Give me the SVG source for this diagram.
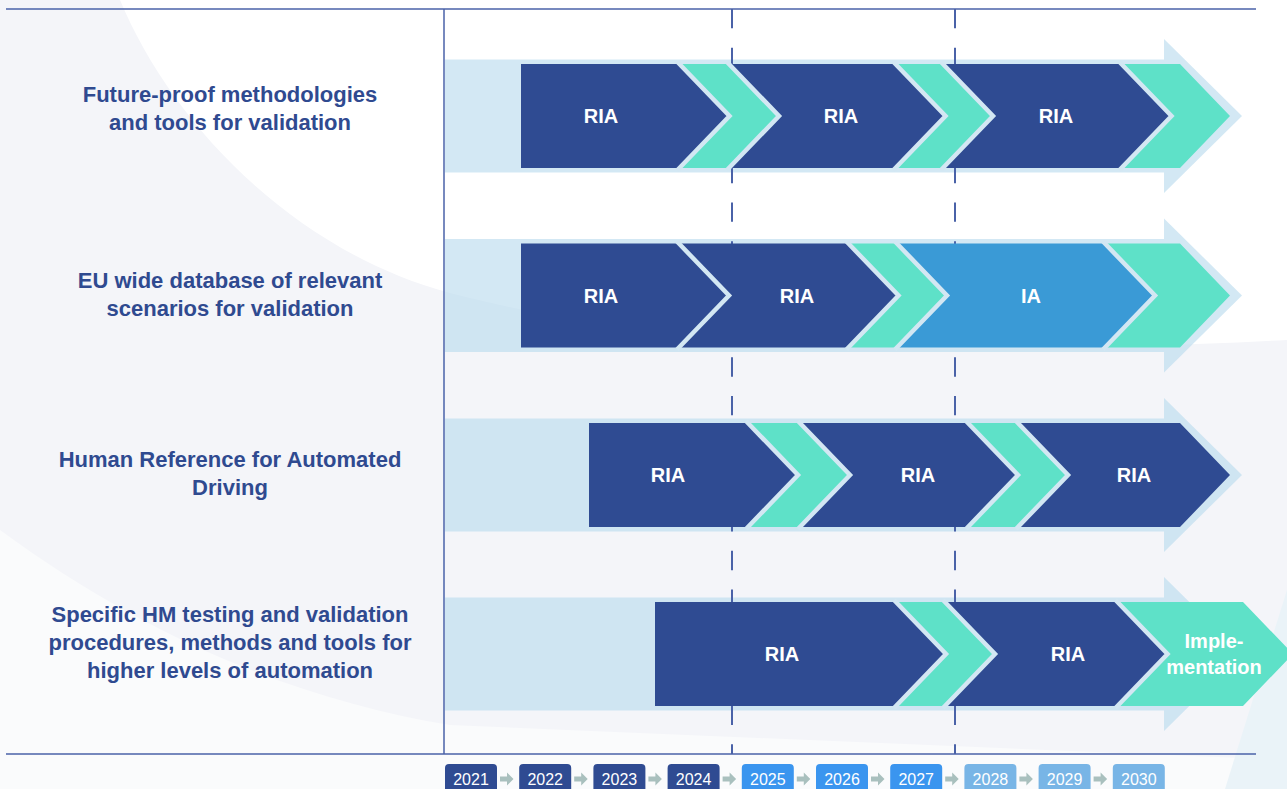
<svg xmlns="http://www.w3.org/2000/svg" width="1287" height="789" viewBox="0 0 1287 789">
<defs>
<style>
.lbl{font-family:"Liberation Sans",Arial,sans-serif;font-weight:bold;font-size:22px;fill:#2f4a90;text-anchor:middle}
.bt{font-family:"Liberation Sans",Arial,sans-serif;font-weight:bold;font-size:20px;fill:#ffffff;text-anchor:middle}
.yr{font-family:"Liberation Sans",Arial,sans-serif;font-size:16px;fill:#ffffff;text-anchor:middle}
.band{fill:#bcdcee;fill-opacity:0.65}
.ria{fill:#2f4b92}
.tl{fill:#5ee1c8}
.ia{fill:#3a9ad6}
.sep{fill:none;stroke:#d3e7f3;stroke-width:4.5;stroke-linejoin:miter}
.ax{stroke:#4a62a8;stroke-width:1.5;fill:none}
.dash{stroke:#4a62a8;stroke-width:2;stroke-dasharray:19.35 19.35;fill:none}
.y1{fill:#2f4b92}.y2{fill:#3a95ef}.y3{fill:#78b5e6}
.con{fill:#a9c0be}
</style>
</defs>
<rect width="1287" height="789" fill="#ffffff"/>
<g id="background">
<path fill="#f4f5f9" d="M0,0 H120 C170,120 290,250 450,293 C650,345 900,360 1287,340 V789 H0 Z"/>
<path fill="#fafbfc" d="M0,530 C150,640 300,700 450,725 L1287,760 V789 H0 Z"/>
<path fill="#eaf3f8" d="M1287,590 L1225,789 H1287 Z"/>
</g>
<g id="bands">
<path class="band" d="M445,59.5 H1164 V39 L1242,116 L1164,193 V172.5 H445 Z"/>
<path class="band" d="M445,239 H1164 V218.5 L1242,295.5 L1164,372.5 V352 H445 Z"/>
<path class="band" d="M445,418.5 H1164 V398 L1242,475 L1164,552 V531.5 H445 Z"/>
<path class="band" d="M445,597.5 H1164 V577 L1242,654 L1164,731 V710.5 H445 Z"/>
</g>
<g id="axes">
<line class="ax" x1="6" y1="9" x2="1256" y2="9"/>
<line class="ax" x1="6" y1="754" x2="1256" y2="754"/>
<line class="ax" x1="444" y1="9" x2="444" y2="754"/>
<line class="dash" x1="732" y1="9" x2="732" y2="754"/>
<line class="dash" x1="955" y1="9" x2="955" y2="754"/>
</g>
<g id="label-row1">
<text class="lbl" x="230" y="102">Future-proof methodologies</text>
<text class="lbl" x="230" y="130">and tools for validation</text>
</g>
<g id="label-row2">
<text class="lbl" x="230" y="288">EU wide database of relevant</text>
<text class="lbl" x="230" y="316">scenarios for validation</text>
</g>
<g id="label-row3">
<text class="lbl" x="230" y="467">Human Reference for Automated</text>
<text class="lbl" x="230" y="495">Driving</text>
</g>
<g id="label-row4">
<text class="lbl" x="230" y="622">Specific HM testing and validation</text>
<text class="lbl" x="230" y="650">procedures, methods and tools for</text>
<text class="lbl" x="230" y="678">higher levels of automation</text>
</g>
<g id="row1">
<polygon class="ria" points="521,64 679.5,64 729.5,116 679.5,168 521,168"/>
<polygon class="tl" points="679.5,64 729,64 779,116 729,168 679.5,168 729.5,116"/>
<polygon class="ria" points="729,64 895.5,64 945.5,116 895.5,168 729,168 779,116"/>
<polygon class="tl" points="895.5,64 943,64 993,116 943,168 895.5,168 945.5,116"/>
<polygon class="ria" points="943,64 1121.5,64 1171.5,116 1121.5,168 943,168 993,116"/>
<polygon class="tl" points="1121.5,64 1180,64 1230,116 1180,168 1121.5,168 1171.5,116"/>
<polyline class="sep" points="677.5,62 729.5,116 677.5,170"/>
<polyline class="sep" points="727,62 779,116 727,170"/>
<polyline class="sep" points="893.5,62 945.5,116 893.5,170"/>
<polyline class="sep" points="941,62 993,116 941,170"/>
<polyline class="sep" points="1119.5,62 1171.5,116 1119.5,170"/>
<text class="bt" x="601" y="123">RIA</text>
<text class="bt" x="841" y="123">RIA</text>
<text class="bt" x="1056" y="123">RIA</text>
</g>
<g id="row2">
<polygon class="ria" points="521,243.5 679,243.5 729,295.5 679,347.5 521,347.5"/>
<polygon class="ria" points="679,243.5 848.5,243.5 898.5,295.5 848.5,347.5 679,347.5 729,295.5"/>
<polygon class="tl" points="848.5,243.5 897,243.5 947,295.5 897,347.5 848.5,347.5 898.5,295.5"/>
<polygon class="ia" points="897,243.5 1105,243.5 1155,295.5 1105,347.5 897,347.5 947,295.5"/>
<polygon class="tl" points="1105,243.5 1180,243.5 1230,295.5 1180,347.5 1105,347.5 1155,295.5"/>
<polyline class="sep" points="677,241.5 729,295.5 677,349.5"/>
<polyline class="sep" points="846.5,241.5 898.5,295.5 846.5,349.5"/>
<polyline class="sep" points="895,241.5 947,295.5 895,349.5"/>
<polyline class="sep" points="1103,241.5 1155,295.5 1103,349.5"/>
<text class="bt" x="601" y="302.5">RIA</text>
<text class="bt" x="797" y="302.5">RIA</text>
<text class="bt" x="1031" y="302.5">IA</text>
</g>
<g id="row3">
<polygon class="ria" points="589,423 748,423 798,475 748,527 589,527"/>
<polygon class="tl" points="748,423 800,423 850,475 800,527 748,527 798,475"/>
<polygon class="ria" points="800,423 968,423 1018,475 968,527 800,527 850,475"/>
<polygon class="tl" points="968,423 1018,423 1068,475 1018,527 968,527 1018,475"/>
<polygon class="ria" points="1018,423 1180,423 1230,475 1180,527 1018,527 1068,475"/>
<polyline class="sep" points="746,421 798,475 746,529"/>
<polyline class="sep" points="798,421 850,475 798,529"/>
<polyline class="sep" points="966,421 1018,475 966,529"/>
<polyline class="sep" points="1016,421 1068,475 1016,529"/>
<text class="bt" x="668" y="482">RIA</text>
<text class="bt" x="918" y="482">RIA</text>
<text class="bt" x="1134" y="482">RIA</text>
</g>
<g id="row4">
<polygon class="ria" points="655,602 896,602 946,654 896,706 655,706"/>
<polygon class="tl" points="896,602 945,602 995,654 945,706 896,706 946,654"/>
<polygon class="ria" points="945,602 1117.5,602 1167.5,654 1117.5,706 945,706 995,654"/>
<polygon class="tl" points="1117.5,602 1243,602 1293,654 1243,706 1117.5,706 1167.5,654"/>
<polyline class="sep" points="894,600 946,654 894,708"/>
<polyline class="sep" points="943,600 995,654 943,708"/>
<polyline class="sep" points="1115.5,600 1167.5,654 1115.5,708"/>
<text class="bt" x="782" y="661">RIA</text>
<text class="bt" x="1068" y="661">RIA</text>
<text class="bt" x="1214" y="648">Imple-</text>
<text class="bt" x="1214" y="674">mentation</text>
</g>
<g id="years">
<g id="y2021"><rect class="y1" x="445" y="764" width="52" height="32" rx="4"/><text class="yr" x="471" y="785">2021</text></g>
<g id="y2022"><rect class="y1" x="519.2" y="764" width="52" height="32" rx="4"/><text class="yr" x="545.2" y="785">2022</text></g>
<g id="y2023"><rect class="y1" x="593.4" y="764" width="52" height="32" rx="4"/><text class="yr" x="619.4" y="785">2023</text></g>
<g id="y2024"><rect class="y1" x="667.6" y="764" width="52" height="32" rx="4"/><text class="yr" x="693.6" y="785">2024</text></g>
<g id="y2025"><rect class="y2" x="741.8" y="764" width="52" height="32" rx="4"/><text class="yr" x="767.8" y="785">2025</text></g>
<g id="y2026"><rect class="y2" x="816" y="764" width="52" height="32" rx="4"/><text class="yr" x="842" y="785">2026</text></g>
<g id="y2027"><rect class="y2" x="890.2" y="764" width="52" height="32" rx="4"/><text class="yr" x="916.2" y="785">2027</text></g>
<g id="y2028"><rect class="y3" x="964.4" y="764" width="52" height="32" rx="4"/><text class="yr" x="990.4" y="785">2028</text></g>
<g id="y2029"><rect class="y3" x="1038.6" y="764" width="52" height="32" rx="4"/><text class="yr" x="1064.6" y="785">2029</text></g>
<g id="y2030"><rect class="y3" x="1112.8" y="764" width="52" height="32" rx="4"/><text class="yr" x="1138.8" y="785">2030</text></g>
</g>
<g id="connectors">
<path class="con" d="M500,776.5 h7 v-4 l6.5,6.5 l-6.5,6.5 v-4 h-7 z"/>
<path class="con" d="M574.2,776.5 h7 v-4 l6.5,6.5 l-6.5,6.5 v-4 h-7 z"/>
<path class="con" d="M648.4,776.5 h7 v-4 l6.5,6.5 l-6.5,6.5 v-4 h-7 z"/>
<path class="con" d="M722.6,776.5 h7 v-4 l6.5,6.5 l-6.5,6.5 v-4 h-7 z"/>
<path class="con" d="M796.8,776.5 h7 v-4 l6.5,6.5 l-6.5,6.5 v-4 h-7 z"/>
<path class="con" d="M871,776.5 h7 v-4 l6.5,6.5 l-6.5,6.5 v-4 h-7 z"/>
<path class="con" d="M945.2,776.5 h7 v-4 l6.5,6.5 l-6.5,6.5 v-4 h-7 z"/>
<path class="con" d="M1019.4,776.5 h7 v-4 l6.5,6.5 l-6.5,6.5 v-4 h-7 z"/>
<path class="con" d="M1093.6,776.5 h7 v-4 l6.5,6.5 l-6.5,6.5 v-4 h-7 z"/>
</g>
</svg>
